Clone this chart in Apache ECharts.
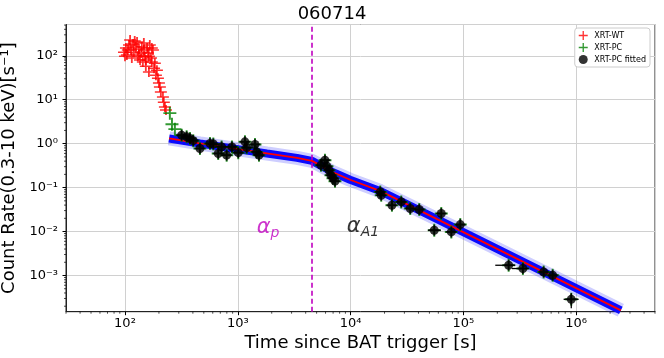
<!DOCTYPE html>
<html>
<head>
<meta charset="utf-8">
<title>060714</title>
<script src="https://cdn.jsdelivr.net/npm/echarts@6/dist/echarts.min.js"></script>
<style>
html, body { margin: 0; padding: 0; background: #fff; }
#chart { width: 664px; height: 358px; }
</style>
</head>
<body>
<div id="chart"></div>
<script>
// XRT-WT (time [s], rate)
const wtTime = [98, 100, 102, 104, 106, 108.5, 111, 113, 115, 118, 120, 122, 125, 128, 130, 133, 133, 136, 139, 141,
  144, 147, 147, 150, 153, 153, 157, 160, 163, 163, 166, 170, 173, 173, 177, 181, 184, 188, 192, 196,
  200, 204, 208, 217, 221, 226, 231];
const wtRate = [121, 98, 150, 104, 135, 175, 228, 135, 89, 185, 121, 216, 158, 205, 98, 142, 104, 80, 115, 158,
  72, 135, 195, 98, 58, 80, 150, 115, 43, 98, 175, 89, 72, 150, 135, 52, 68, 36, 47, 31,
  24, 19.4, 14.9, 11.5, 8.8, 6.8, 5.8];

// XRT-PC points not used in the fit
const pcTime = [250, 261, 277];
const pcRate = [4.95, 2.78, 2.14];

// XRT-PC fitted points
const fitTime = [318, 352, 377, 403, 462, 567, 607, 671, 719, 797, 888, 1010, 1158, 1199, 1421, 1471, 1542,
  5466, 5930, 6180, 6436, 6700, 6980, 7275,
  18340, 18700, 23270, 28150, 33820, 40640, 63700, 55200, 78200, 93900,
  252000, 337000, 515000, 619000, 905000];
const fitRate = [1.56, 1.43, 1.31, 1.17, 0.777, 1.01, 0.98, 0.598, 0.845, 0.547, 0.845, 0.624, 1.10, 0.811, 0.96, 0.65, 0.547,
  0.324, 0.421, 0.307, 0.249, 0.192, 0.164, 0.140,
  0.0798, 0.0671, 0.0397, 0.0472, 0.0334, 0.0317, 0.0257, 0.0107, 0.0098, 0.0144,
  0.00171, 0.00144, 0.00120, 0.00101, 0.000287];

// visible long error bars [t, r, tLo, tHi, rLo, rHi]
const wideErr = [
  [55200, 0.0107, 48500, 63200, null, null],
  [252000, 0.00171, 191800, 288500, null, null],
  [337000, 0.00144, 269800, 379500, null, null],
  [905000, 0.000287, 774000, 1052000, 0.000179, 0.000394]
];

// fitted broken power law
const modelTime = [246, 462, 906, 1815, 3350, 4550, 6980, 9890, 18240, 140300, 2490000];
const modelRate = [1.314, 1.011, 0.777, 0.598, 0.475, 0.406, 0.224, 0.151, 0.0841, 0.00631, 0.000161];

const breakTime = 4550;

const xMin = 30, xMax = 5e6;
const yMin = 1.5e-4, yMax = 515;
const xMinor = [];
const yMinor = [];
for (let e = 1; e <= 6; e++) {
  for (let k = 2; k <= 9; k++) {
    const v = k * Math.pow(10, e);
    if (v >= xMin && v <= xMax) xMinor.push([v, yMin]);
  }
}
for (let e = -4; e <= 2; e++) {
  for (let k = 2; k <= 9; k++) {
    const v = k * Math.pow(10, e);
    if (v >= yMin && v <= yMax) yMinor.push([xMin, v]);
  }
}

const zip = (a, b) => a.map((v, i) => [v, b[i]]);
const supDigits = '⁰¹²³⁴⁵⁶⁷⁸⁹';
const toSup = n => String(n).split('').map(c => c === '-' ? '⁻' : supDigits[+c]).join('');
const powLabel = v => {
  const e = Math.round(Math.log10(v));
  return Math.abs(v / Math.pow(10, e) - 1) < 1e-6 ? '10' + toSup(e) : '';
};

const plusIcon = 'path://M0,4.25H10V5.75H0Z M4.25,0H5.75V10H4.25Z';
const font = 'DejaVu Sans';
const magenta = '#c000c0';

const chart = echarts.init(document.getElementById('chart'));
chart.setOption({
  animation: false,
  title: {
    text: '060714', left: 'center', top: 0,
    textStyle: { fontFamily: font, fontSize: 18, fontWeight: 'normal', color: '#000' }
  },
  legend: {
    data: [
      { name: 'XRT-WT', icon: plusIcon, itemStyle: { color: '#ff0000' } },
      { name: 'XRT-PC', icon: plusIcon, itemStyle: { color: '#008000' } },
      { name: 'XRT-PC fitted', icon: 'circle', itemStyle: { color: '#000' } }
    ],
    orient: 'vertical', right: 14, top: 28,
    itemWidth: 12, itemHeight: 9, itemGap: 3,
    backgroundColor: '#fff', borderColor: '#ccc', borderWidth: 1, borderRadius: 3,
    padding: [3, 4, 3, 4],
    textStyle: { fontFamily: font, fontSize: 8, color: '#000' }
  },
  grid: { left: 66, right: 9, top: 24.5, bottom: 46.3, containLabel: false, outerBoundsMode: 'none',
    show: true, borderColor: '#222', borderWidth: 1 },
  xAxis: {
    type: 'log', min: xMin, max: xMax,
    name: 'Time since BAT trigger [s]', nameLocation: 'middle', nameGap: 22,
    nameTextStyle: { fontFamily: font, fontSize: 18, color: '#000' },
    axisLine: { lineStyle: { color: '#222' } },
    axisTick: { length: 3.5, lineStyle: { color: '#000' } },
    axisLabel: { formatter: powLabel, fontFamily: font, fontSize: 13, color: '#000', margin: 5,
      showMinLabel: false, showMaxLabel: false },
    splitLine: { show: true, lineStyle: { color: '#d0d0d0' } }
  },
  yAxis: {
    type: 'log', min: yMin, max: yMax,
    name: 'Count Rate(0.3-10 keV)[s⁻¹]', nameLocation: 'middle', nameGap: 37,
    nameTextStyle: { fontFamily: font, fontSize: 18, color: '#000' },
    axisLine: { lineStyle: { color: '#222' } },
    axisTick: { length: 3.5, lineStyle: { color: '#000' } },
    axisLabel: { formatter: powLabel, fontFamily: font, fontSize: 13, color: '#000', margin: 8,
      showMinLabel: false, showMaxLabel: false },
    splitLine: { show: true, lineStyle: { color: '#d0d0d0' } }
  },
  series: [
    {
      name: 'xMinorTicks', type: 'custom', clip: false, silent: true, data: xMinor,
      renderItem: (params, api) => {
        const cs = params.coordSys;
        const p = api.coord([api.value(0), api.value(1)]);
        return { type: 'line', shape: { x1: p[0], y1: cs.y + cs.height, x2: p[0], y2: cs.y + cs.height + 2 },
          style: { stroke: '#000', lineWidth: 0.7 } };
      }
    },
    {
      name: 'yMinorTicks', type: 'custom', clip: false, silent: true, data: yMinor,
      renderItem: (params, api) => {
        const cs = params.coordSys;
        const p = api.coord([api.value(0), api.value(1)]);
        return { type: 'line', shape: { x1: cs.x, y1: p[1], x2: cs.x - 2, y2: p[1] },
          style: { stroke: '#000', lineWidth: 0.7 } };
      }
    },
    {
      name: 'bandOuter', type: 'line', data: zip(modelTime, modelRate), symbol: 'none', silent: true,
      lineStyle: { color: 'rgba(30,30,255,0.22)', width: 14 }, z: 2
    },
    {
      name: 'band', type: 'line', data: zip(modelTime, modelRate), symbol: 'none', silent: true,
      lineStyle: { color: '#0a0aff', width: 8 }, z: 2,
      markLine: {
        silent: true, symbol: 'none', label: { show: false },
        lineStyle: { color: magenta, width: 1.6, type: [5, 3] },
        data: [{ xAxis: breakTime }]
      }
    },
    {
      name: 'model', type: 'line', data: zip(modelTime, modelRate), symbol: 'none', silent: true,
      lineStyle: { color: '#ff0000', width: 1.8 }, z: 3
    },
    {
      name: 'XRT-WT', type: 'scatter', data: zip(wtTime, wtRate), symbol: plusIcon, symbolSize: [12, 10],
      itemStyle: { color: '#ff0000' }, z: 4
    },
    {
      name: 'XRT-PC', type: 'scatter', data: zip(pcTime, pcRate).concat(zip(fitTime, fitRate)),
      symbol: plusIcon, symbolSize: [13, 13], itemStyle: { color: '#008000' }, z: 4
    },
    {
      name: 'pcErr', type: 'scatter', data: zip(fitTime, fitRate), symbol: plusIcon, symbolSize: [11, 11],
      itemStyle: { color: '#000' }, z: 5, silent: true
    },
    {
      name: 'wideErr', type: 'custom', data: wideErr, z: 5, silent: true,
      renderItem: (params, api) => {
        const kids = [];
        const c = api.coord([api.value(0), api.value(1)]);
        const tLo = api.value(2), tHi = api.value(3), rLo = api.value(4), rHi = api.value(5);
        if (tLo > 0) {
          const a = api.coord([tLo, api.value(1)]), b = api.coord([tHi, api.value(1)]);
          kids.push({ type: 'line', shape: { x1: a[0], y1: c[1], x2: b[0], y2: c[1] }, style: { stroke: '#000', lineWidth: 1.3 } });
        }
        if (rLo > 0) {
          const a = api.coord([api.value(0), rLo]), b = api.coord([api.value(0), rHi]);
          kids.push({ type: 'line', shape: { x1: c[0], y1: a[1], x2: c[0], y2: b[1] }, style: { stroke: '#000', lineWidth: 1.3 } });
        }
        return { type: 'group', children: kids };
      }
    },
    {
      name: 'XRT-PC fitted', type: 'scatter', data: zip(fitTime, fitRate), symbol: 'circle', symbolSize: 9,
      itemStyle: { color: '#000' }, z: 6
    },
    {
      name: 'notes', type: 'scatter', symbolSize: 0, silent: true, z: 7,
      data: [
        { value: [1854, 0.0125], label: { formatter: '{m|α}{pm|p}' } },
        { value: [12880, 0.0132], label: { formatter: '{a|α}{sb|A1}' } }
      ],
      label: {
        show: true, position: 'inside',
        rich: {
          m: { fontFamily: font, fontStyle: 'italic', fontSize: 21, color: magenta, lineHeight: 26 },
          a: { fontFamily: font, fontStyle: 'italic', fontSize: 21, color: '#000', lineHeight: 26 },
          pm: { fontFamily: font, fontStyle: 'italic', fontSize: 14, color: magenta, padding: [13, 0, 0, 0] },
          sb: { fontFamily: font, fontStyle: 'italic', fontSize: 14, color: '#000', padding: [13, 0, 0, 0] }
        }
      }
    }
  ]
});
</script>
</body>
</html>
